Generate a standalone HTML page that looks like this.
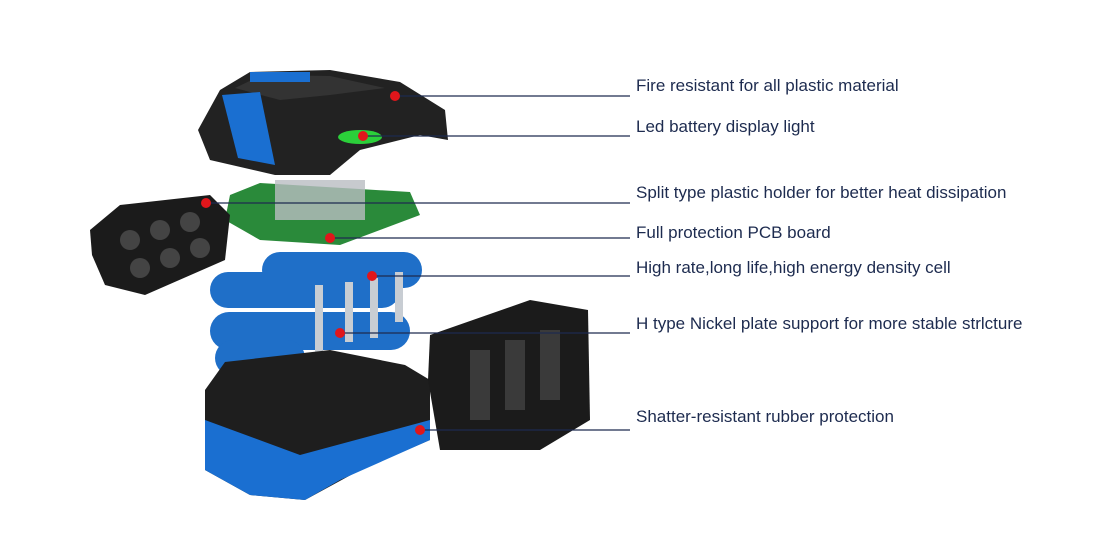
<!DOCTYPE html>
<html><head><style>
body{margin:0;background:#fff;width:1100px;height:545px;overflow:hidden;font-family:"Liberation Sans",sans-serif}
.t{position:absolute;left:636px;font-size:17px;color:#1d2b4f;white-space:nowrap}
</style></head><body>
<svg width="1100" height="545" style="position:absolute;left:0;top:0">
<!-- top cap -->
<polygon points="220,90 250,72 330,70 400,82 445,110 448,140 420,135 360,150 330,175 275,175 210,160 198,130" fill="#222"/>
<polygon points="235,88 262,75 330,76 385,88 330,95 280,100" fill="#333"/>
<polygon points="222,95 260,92 275,165 238,158" fill="#1a6fd1"/>
<rect x="250" y="72" width="60" height="10" fill="#1a6fd1"/>
<ellipse cx="360" cy="137" rx="22" ry="7" fill="#2bcf3a"/>
<!-- PCB -->
<polygon points="230,195 260,183 410,192 420,215 340,245 260,240 225,220" fill="#2a8a3a"/>
<rect x="275" y="180" width="90" height="40" fill="#b9bdc2" opacity=".8"/>
<!-- left holder -->
<polygon points="90,230 120,205 210,195 230,215 225,260 145,295 105,285 92,255" fill="#1b1b1b"/>
<g fill="#444"><circle cx="130" cy="240" r="10"/><circle cx="160" cy="230" r="10"/><circle cx="190" cy="222" r="10"/><circle cx="140" cy="268" r="10"/><circle cx="170" cy="258" r="10"/><circle cx="200" cy="248" r="10"/></g>
<!-- cells -->
<g fill="#1f6fc8">
<rect x="262" y="252" width="160" height="36" rx="18"/>
<rect x="210" y="272" width="190" height="36" rx="18"/>
<rect x="210" y="312" width="200" height="38" rx="19"/>
<rect x="215" y="340" width="90" height="36" rx="18"/>
</g>
<g fill="#c8cdd3"><rect x="315" y="285" width="8" height="70"/><rect x="345" y="282" width="8" height="60"/><rect x="370" y="278" width="8" height="60"/><rect x="395" y="272" width="8" height="50"/></g>
<!-- bottom shell -->
<polygon points="205,390 225,362 330,350 405,365 430,380 430,440 360,470 305,500 250,495 205,470" fill="#1e1e1e"/>
<polygon points="205,420 300,455 430,420 430,440 340,480 305,500 250,495 205,470" fill="#1a6fd1"/>
<!-- right rubber -->
<polygon points="430,335 530,300 588,310 590,420 540,450 440,450 428,380" fill="#1b1b1b"/>
<g fill="#3a3a3a"><rect x="470" y="350" width="20" height="70"/><rect x="505" y="340" width="20" height="70"/><rect x="540" y="330" width="20" height="70"/></g>
<g stroke="#1d2b4f" stroke-width="1.2">
<line x1="395" y1="96" x2="630" y2="96"/><line x1="363" y1="136" x2="630" y2="136"/>
<line x1="206" y1="203" x2="630" y2="203"/><line x1="330" y1="238" x2="630" y2="238"/>
<line x1="372" y1="276" x2="630" y2="276"/><line x1="340" y1="333" x2="630" y2="333"/>
<line x1="420" y1="430" x2="630" y2="430"/>
</g>
<g fill="#e0161b"><circle cx="395" cy="96" r="5"/><circle cx="363" cy="136" r="5"/><circle cx="206" cy="203" r="5"/><circle cx="330" cy="238" r="5"/><circle cx="372" cy="276" r="5"/><circle cx="340" cy="333" r="5"/><circle cx="420" cy="430" r="5"/></g>
</svg>
<div class="t" style="top:76px">Fire resistant for all plastic material</div>
<div class="t" style="top:117px">Led battery display light</div>
<div class="t" style="top:183px">Split type plastic holder for better heat dissipation</div>
<div class="t" style="top:223px">Full protection PCB board</div>
<div class="t" style="top:258px">High rate,long life,high energy density cell</div>
<div class="t" style="top:314px">H type Nickel plate support for more stable strlcture</div>
<div class="t" style="top:407px">Shatter-resistant rubber protection</div>
</body></html>
